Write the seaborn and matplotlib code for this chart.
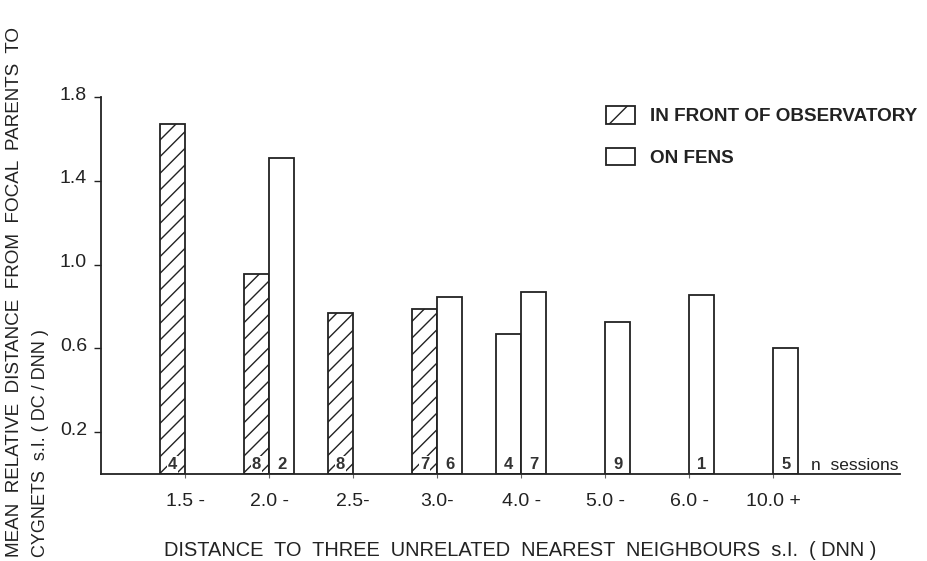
import numpy as np
import pandas as pd
import matplotlib
matplotlib.use("Agg")
import matplotlib.pyplot as plt
import matplotlib.transforms as mtransforms
import seaborn as sns
from matplotlib.patches import Patch

# ---------------- data ----------------
categories = ["1.5 -", "2.0 -", "2.5-", "3.0-", "4.0 -", "5.0 -", "6.0 -", "10.0 +"]
series_names = ["IN FRONT OF OBSERVATORY", "ON FENS"]
observatory = [1.67, 0.955, 0.77, 0.79, 0.67, np.nan, np.nan, np.nan]
fens = [np.nan, 1.51, np.nan, 0.845, 0.87, 0.725, 0.855, 0.60]
n_observatory = [4, 8, 8, 7, 4, None, None, None]
n_fens = [None, 2, None, 6, 7, 9, 1, 5]
yticks = [0.2, 0.6, 1.0, 1.4, 1.8]
obs_hatched = [True, True, True, True, False, True, True, True]

df = pd.DataFrame({
    "cat": categories * 2,
    "series": [series_names[0]] * len(categories) + [series_names[1]] * len(categories),
    "value": observatory + fens,
})

# ---------------- figure ----------------
sns.set_theme(style="white")
plt.rcParams["font.family"] = ["Liberation Sans", "DejaVu Sans"]
plt.rcParams["hatch.linewidth"] = 1.0
plt.rcParams["hatch.color"] = "#222222"

fig = plt.figure(figsize=(9.28, 5.61), dpi=100)
ax = fig.add_axes([101 / 928, 1 - 474 / 561, (900 - 101) / 928, (474 - 97) / 561])

sns.barplot(data=df, x="cat", y="value", hue="series", order=categories,
            hue_order=series_names, palette=["white", "white"], width=0.6,
            edgecolor="#222222", linewidth=1.3, dodge=True, legend=False,
            saturation=1, err_kws={"linewidth": 0}, ax=ax)

# hatching & counts
offsets = {0: -0.15, 1: 0.15}
for ci, cont in enumerate(ax.containers):
    for patch in cont.patches:
        h = patch.get_height()
        if np.isnan(h) or h == 0:
            continue
        xc = patch.get_x() + patch.get_width() / 2
        idx = int(round(xc - offsets[ci]))
        if ci == 0 and obs_hatched[idx]:
            patch.set_hatch("//")
        n = n_observatory[idx] if ci == 0 else n_fens[idx]
        if n is not None:
            ax.text(xc, 0.008, str(n), ha="center", va="bottom", fontsize=12,
                    fontweight="bold", color="#333333",
                    bbox=dict(facecolor="white", edgecolor="none", pad=0.8))

ax.text(7.45, 0.006, "n  sessions", ha="left", va="bottom", fontsize=12.5,
        color="#222222")

ax.set_xlim(-1.0, 8.51)
ax.set_ylim(0, 1.8)
ax.set_yticks(yticks)
ax.set_yticklabels([f"{v:.1f}" for v in yticks], fontsize=14, color="#222222")
ax.set_xticks(range(len(categories)))
ax.set_xticklabels(categories, fontsize=14, color="#222222")
ax.set_xlabel("")
ax.set_ylabel("")
ax.tick_params(axis="y", left=True, length=5, width=1.0, color="#222222", pad=5)
ax.tick_params(axis="x", bottom=True, length=3, width=0.8, color="#666666", pad=11)
shift = mtransforms.ScaledTranslation(0, 4 / 100, fig.dpi_scale_trans)
for lbl in ax.get_yticklabels():
    lbl.set_transform(lbl.get_transform() + shift)
for s in ["top", "right"]:
    ax.spines[s].set_visible(False)
for s in ["left", "bottom"]:
    ax.spines[s].set_color("#222222")
    ax.spines[s].set_linewidth(1.3)

# legend
handles = [Patch(facecolor="white", edgecolor="#222222", hatch="/", linewidth=1.3),
           Patch(facecolor="white", edgecolor="#222222", linewidth=1.3)]
leg = fig.legend(handles, series_names, loc="upper left",
                 bbox_to_anchor=(606 / 928, 1 - 106 / 561), frameon=False,
                 prop={"size": 13.6, "weight": "bold"}, handlelength=1.55,
                 handleheight=1.05, labelspacing=1.2, handletextpad=0.8,
                 borderaxespad=0, borderpad=0)
for t in leg.get_texts():
    t.set_color("#222222")

# axis titles
fig.text(520 / 928, 1 - 550 / 561,
         "DISTANCE  TO  THREE  UNRELATED  NEAREST  NEIGHBOURS  s.I.  ( DNN )",
         ha="center", va="center", fontsize=14.4, color="#222222")
fig.text(15 / 928, 1 - 557 / 561,
         "MEAN  RELATIVE  DISTANCE  FROM  FOCAL  PARENTS  TO",
         rotation=90, ha="center", va="bottom", fontsize=13.6, color="#222222")
fig.text(41 / 928, 1 - 557 / 561, "CYGNETS  s.I. ( DC / DNN )",
         rotation=90, ha="center", va="bottom", fontsize=13, color="#222222")

fig.savefig("out.png", dpi=100, facecolor="white")
